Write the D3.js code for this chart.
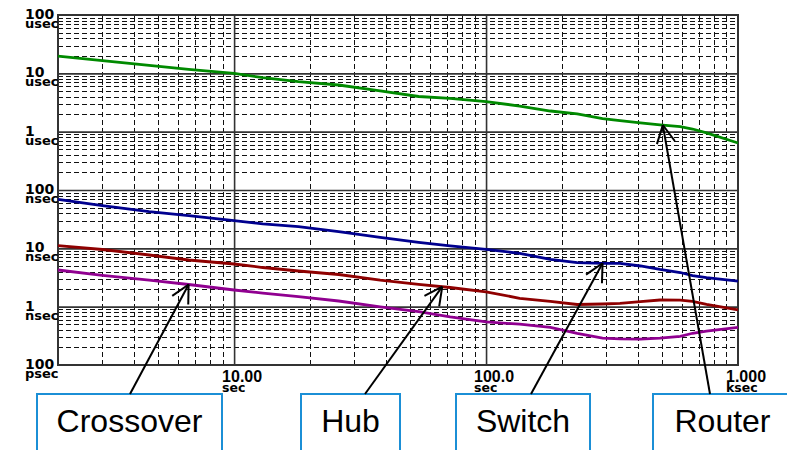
<!DOCTYPE html>
<html>
<head>
<meta charset="utf-8">
<script src="https://cdn.jsdelivr.net/npm/d3@7"></script>
<style>
  body { margin: 0; background: #fff; }
  svg { display: block; }
</style>
</head>
<body>
<div id="chart"></div>
<script>
// averaging time (sec)
var tau = [2, 3, 4.6, 6.6, 10, 13, 18, 26, 38, 54, 72, 100, 136, 180, 230, 290, 340, 410, 490, 590, 660, 750, 1000];
// deviation values in nanoseconds
var router    = [19800, 16500, 13700, 11700, 10000, 8410, 7190, 6310, 5020, 4010, 3720, 3280, 2750, 2260, 2020, 1680, 1550, 1410, 1310, 1220, 1110, 950, 640];
var switchDev = [69.3, 54.2, 42.5, 36.5, 29.8, 26.3, 23.6, 19.4, 15.4, 12.7, 11.0, 9.6, 8.2, 6.46, 5.71, 5.54, 5.54, 4.98, 4.34, 3.85, 3.42, 3.16, 2.75];
var hub       = [11.1, 9.55, 7.69, 6.31, 5.39, 4.69, 4.09, 3.56, 2.86, 2.42, 2.13, 1.80, 1.39, 1.23, 1.09, 1.11, 1.14, 1.22, 1.30, 1.29, 1.23, 1.09, 0.88];
var crossover = [4.25, 3.44, 2.86, 2.40, 1.93, 1.71, 1.49, 1.25, 0.99, 0.82, 0.67, 0.55, 0.50, 0.44, 0.35, 0.29, 0.28, 0.277, 0.29, 0.31, 0.35, 0.38, 0.44];

var yTicks = [0.1, 1, 10, 100, 1000, 10000, 100000];
var yTickLabels = ["100 psec", "1 nsec", "10 nsec", "100 nsec", "1 usec", "10 usec", "100 usec"];
var xTicks = [10, 100, 1000];
var xTickLabels = ["10.00 sec", "100.0 sec", "1.000 ksec"];

// callouts: label, point on curve (tau, ns)
var annLabels = ["Crossover", "Hub", "Switch", "Router"];
var annTau = [6.6, 67, 290, 503];
var annValue = [2.40, 2.2, 5.54, 1300];

var width = 787, height = 450;
var margin = { top: 15, right: 49, bottom: 85, left: 58 };
var w = width - margin.left - margin.right;
var h = height - margin.top - margin.bottom;

var svg = d3.select("#chart").append("svg")
  .attr("width", width)
  .attr("height", height);

var x = d3.scaleLog().domain([2, 1000]).range([0, w]);
var y = d3.scaleLog().domain([0.1, 100000]).range([h, 0]);

var g = svg.append("g")
  .attr("transform", "translate(" + margin.left + "," + margin.top + ")");

// minor grid values
var xMinor = [], yMinor = [];
[1, 10, 100].forEach(function(d) {
  for (var k = 2; k <= 9; k++) {
    var v = d * k;
    if (v > 2 && v < 1000) xMinor.push(v);
  }
});
yTicks.slice(0, -1).forEach(function(d) {
  for (var k = 2; k <= 9; k++) yMinor.push(d * k);
});

g.append("g")
  .attr("class", "grid minor")
  .attr("transform", "translate(0," + h + ")")
  .call(d3.axisBottom(x).tickValues(xMinor).tickSize(-h).tickFormat(""));
g.append("g")
  .attr("class", "grid minor")
  .call(d3.axisLeft(y).tickValues(yMinor).tickSize(-w).tickFormat(""));

g.selectAll(".grid.minor line")
  .attr("stroke", "#111")
  .attr("stroke-width", 1)
  .attr("stroke-dasharray", "5,3")
  .attr("shape-rendering", "crispEdges");

// major grid
g.append("g")
  .attr("class", "grid major")
  .attr("transform", "translate(0," + h + ")")
  .call(d3.axisBottom(x).tickValues([10, 100]).tickSize(-h).tickFormat(""));
g.append("g")
  .attr("class", "grid major")
  .call(d3.axisLeft(y).tickValues(yTicks.slice(1, -1)).tickSize(-w).tickFormat(""));

g.selectAll(".grid.major line")
  .attr("stroke", "#333")
  .attr("stroke-width", 1.6);

g.selectAll(".grid .domain").remove();

// frame
g.append("rect")
  .attr("x", 0).attr("y", 0)
  .attr("width", w).attr("height", h)
  .attr("fill", "none")
  .attr("stroke", "#333")
  .attr("stroke-width", 2);

// curves
var series = [
  { values: router, color: "#008a00" },
  { values: switchDev, color: "#00008f" },
  { values: hub, color: "#8f0000" },
  { values: crossover, color: "#900090" }
];

var line = d3.line()
  .x(function(d) { return x(d[0]); })
  .y(function(d) { return y(d[1]); });

series.forEach(function(s) {
  g.append("path")
    .datum(tau.map(function(t, i) { return [t, s.values[i]]; }))
    .attr("fill", "none")
    .attr("stroke", s.color)
    .attr("stroke-width", 2.8)
    .attr("d", line);
});

// y labels
yTicks.forEach(function(t, i) {
  var parts = yTickLabels[i].split(" ");
  var yy = margin.top + y(t);
  svg.append("text")
    .attr("x", 25).attr("y", yy + 4)
    .style("font-family", "DejaVu Sans")
    .style("font-weight", "bold")
    .style("font-size", "14px")
    .text(parts[0]);
  svg.append("text")
    .attr("x", 25).attr("y", yy + 13)
    .style("font-family", "DejaVu Sans")
    .style("font-weight", "bold")
    .style("font-size", "13px")
    .text(parts[1]);
});

// x labels
xTicks.forEach(function(t, i) {
  var parts = xTickLabels[i].split(" ");
  var xx = margin.left + x(t) - 12;
  svg.append("text")
    .attr("x", xx).attr("y", margin.top + h + 17)
    .style("font-family", "Liberation Sans, Arial")
    .style("font-weight", "bold")
    .style("font-size", "16px")
    .text(parts[0]);
  svg.append("text")
    .attr("x", xx).attr("y", margin.top + h + 27)
    .style("font-family", "DejaVu Sans")
    .style("font-weight", "bold")
    .style("font-size", "12.5px")
    .text(parts[1]);
});

// callout boxes
var boxes = [[37, 222, 130], [301, 400, 365], [456, 590, 531], [653, 792, 710]];
var boxTop = 394;

annLabels.forEach(function(lbl, i) {
  var b = boxes[i];
  svg.append("rect")
    .attr("x", b[0]).attr("y", boxTop)
    .attr("width", b[1] - b[0]).attr("height", 80)
    .attr("fill", "#fff")
    .attr("stroke", "#1b8fd6")
    .attr("stroke-width", 2);
  svg.append("text")
    .attr("x", (b[0] + b[1]) / 2).attr("y", 432)
    .attr("text-anchor", "middle")
    .style("font-family", "Liberation Sans, Arial")
    .style("font-size", "32px")
    .style("fill", "#000")
    .text(lbl);

  var tipX = margin.left + x(annTau[i]);
  var tipY = margin.top + y(annValue[i]);
  var tailX = b[2], tailY = boxTop;
  svg.append("line")
    .attr("x1", tailX).attr("y1", tailY)
    .attr("x2", tipX).attr("y2", tipY)
    .attr("stroke", "#000").attr("stroke-width", 2);
  var ang = Math.atan2(tailY - tipY, tailX - tipX);
  var spread = 27 * Math.PI / 180, len = 20;
  [-1, 1].forEach(function(sg) {
    svg.append("line")
      .attr("x1", tipX).attr("y1", tipY)
      .attr("x2", tipX + len * Math.cos(ang + sg * spread))
      .attr("y2", tipY + len * Math.sin(ang + sg * spread))
      .attr("stroke", "#000").attr("stroke-width", 2);
  });
});
</script>
</body>
</html>
